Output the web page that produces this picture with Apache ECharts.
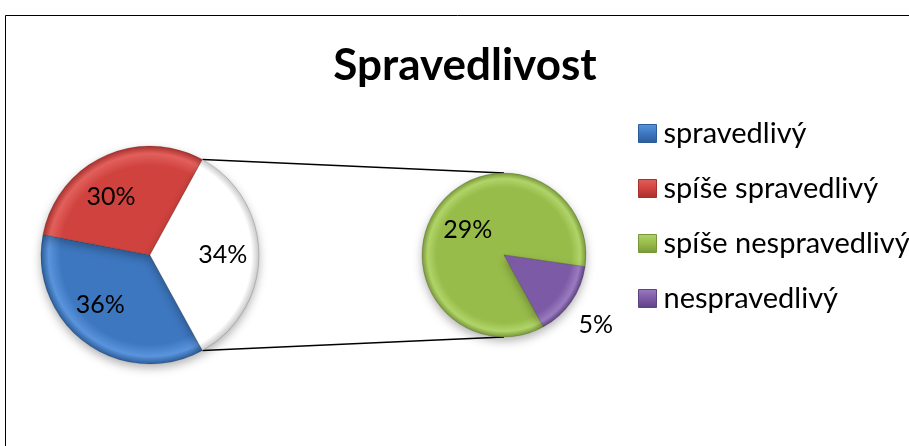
<!DOCTYPE html>
<html>
<head>
<meta charset="utf-8">
<script src="https://cdn.jsdelivr.net/npm/echarts@6/dist/echarts.min.js"></script>
<style>
  html, body { margin: 0; padding: 0; background: #fff; }
  #chart { width: 909px; height: 446px; }
</style>
</head>
<body>
<div id="chart"></div>
<script>
// main pie: two categories plus the aggregated "other" slice that is split out
const mainNames = ['spravedlivý', 'spíše spravedlivý']
const mainValues = [36, 30]
// secondary pie: breakdown of the "other" slice
const subNames = ['spíše nespravedlivý', 'nespravedlivý']
const subValues = [29, 5]
const legendNames = [...mainNames, ...subNames]

const FONT = 'Lato'
const colors = {
  'spravedlivý': ['#5a94dc', '#3d77c0', '#2c5c98'],
  'spíše spravedlivý': ['#e2605c', '#d0423e', '#a8302c'],
  'spíše nespravedlivý': ['#b0d468', '#98bc4a', '#78973a'],
  'nespravedlivý': ['#9a7bc0', '#7d5aa6', '#5f4282'],
  other: ['#ffffff', '#ffffff', '#c8c8c8'],
}
// small nudges so the main pie labels sit like Excel's best fit
const mainLabelNudge = [[-7, -9], [-8, 8], [0, 0]]

const leftCenter = [150, 255]
const leftR = 109
const rightCenter = [504, 255]
const rightR = 82

const otherValue = subValues.reduce((a, b) => a + b, 0)
const mainTotal = mainValues.reduce((a, b) => a + b, 0) + otherValue
// "other" slice sits centred on 3 o'clock, so rotate the start accordingly
const startAngle = -(otherValue / mainTotal) * 180

function fill(key, center, r) {
  const [hi, base, edge] = colors[key]
  return {
    type: 'radial', x: center[0], y: center[1], r: r, global: true,
    colorStops: [
      { offset: 0, color: base },
      { offset: 0.82, color: base },
      { offset: 0.93, color: hi },
      { offset: 1, color: edge },
    ],
  }
}

function iconFill(key) {
  const [hi, base, edge] = colors[key]
  return {
    type: 'linear', x: 0, y: 0, x2: 0, y2: 1,
    colorStops: [
      { offset: 0, color: hi },
      { offset: 0.5, color: base },
      { offset: 1, color: edge },
    ],
  }
}

const mainData = mainNames.map((name, i) => ({
  name, value: mainValues[i],
  itemStyle: { color: fill(name, leftCenter, leftR) },
}))
mainData.push({
  name: 'other', value: otherValue,
  itemStyle: { color: fill('other', leftCenter, leftR) },
})

const subData = subNames.map((name, i) => ({
  name, value: subValues[i],
  itemStyle: { color: fill(name, rightCenter, rightR) },
}))

function pct(v) {
  return Math.round((v / mainTotal) * 100) + '%'
}

// connector lines from the "other" slice edges to the top/bottom of the second pie
const half = (otherValue / mainTotal) * Math.PI
const topStart = [leftCenter[0] + leftR * Math.sin(Math.PI / 2 - half), leftCenter[1] - leftR * Math.cos(Math.PI / 2 - half)]
const botStart = [topStart[0], 2 * leftCenter[1] - topStart[1]]

const labelText = { fontFamily: FONT, fontSize: 25, color: '#000' }
const pieItemStyle = { borderColor: 'rgba(0,0,0,0.15)', borderWidth: 1, shadowBlur: 10, shadowColor: 'rgba(0,0,0,0.3)', shadowOffsetY: 4 }

const chart = echarts.init(document.getElementById('chart'))
chart.setOption({
  animation: false,
  color: legendNames.map((n) => colors[n][1]),
  legend: {
    data: legendNames.map((n) => ({ name: n, itemStyle: { color: iconFill(n), borderColor: colors[n][2], borderWidth: 1 } })),
    orient: 'vertical',
    left: 633,
    top: 114,
    icon: 'rect',
    itemWidth: 18,
    itemHeight: 18,
    itemGap: 26,
    selectedMode: false,
    textStyle: { fontFamily: FONT, fontSize: 29, lineHeight: 28, color: '#000', padding: [0, 0, 0, 2] },
  },
  graphic: [
    { type: 'rect', silent: true, shape: { x: 5.5, y: 15.5, width: 1000, height: 1000 }, style: { fill: 'none', stroke: '#000', lineWidth: 1 } },
    { type: 'text', silent: true, x: 465, y: 66, style: { text: 'Spravedlivost', fontFamily: FONT, fontWeight: 'bold', fontSize: 44, fill: '#000', textAlign: 'center', textVerticalAlign: 'middle' } },
    { type: 'line', silent: true, z: 1, shape: { x1: topStart[0], y1: topStart[1], x2: rightCenter[0], y2: rightCenter[1] - rightR }, style: { stroke: '#000', lineWidth: 1.6 } },
    { type: 'line', silent: true, z: 1, shape: { x1: botStart[0], y1: botStart[1], x2: rightCenter[0], y2: rightCenter[1] + rightR }, style: { stroke: '#000', lineWidth: 1.6 } },
  ],
  series: [
    {
      type: 'pie',
      center: leftCenter,
      radius: [0, leftR],
      startAngle,
      clockwise: true,
      silent: true,
      z: 3,
      data: mainData,
      label: { show: false },
      labelLine: { show: false },
      itemStyle: pieItemStyle,
    },
    {
      // label carrier for the main pie, labels land at ~0.64 of the radius
      type: 'pie',
      center: leftCenter,
      radius: [0, leftR * 1.28],
      startAngle,
      clockwise: true,
      silent: true,
      z: 4,
      data: mainData.map((d) => ({ name: d.name, value: d.value })),
      itemStyle: { color: 'transparent' },
      label: { show: true, position: 'inside', ...labelText, formatter: (p) => pct(p.value) },
      labelLine: { show: false },
      labelLayout: (p) => ({ dx: mainLabelNudge[p.dataIndex][0], dy: mainLabelNudge[p.dataIndex][1] }),
    },
    {
      type: 'pie',
      center: rightCenter,
      radius: [0, rightR],
      startAngle,
      clockwise: true,
      silent: true,
      z: 3,
      data: subData,
      label: { show: true, position: 'inside', ...labelText, formatter: (p) => p.dataIndex === 0 ? pct(p.value) : '' },
      labelLine: { show: false },
      itemStyle: pieItemStyle,
    },
    {
      // label carrier for the small slice, placed outside the second pie
      type: 'pie',
      center: rightCenter,
      radius: [0, rightR * 2.74],
      startAngle,
      clockwise: true,
      silent: true,
      z: 4,
      data: subData.map((d) => ({ name: d.name, value: d.value })),
      itemStyle: { color: 'transparent' },
      label: { show: true, position: 'inside', ...labelText, formatter: (p) => p.dataIndex === 1 ? pct(p.value) : '' },
      labelLine: { show: false },
      labelLayout: { dx: -3, dy: 4 },
    },
  ],
})
</script>
</body>
</html>
